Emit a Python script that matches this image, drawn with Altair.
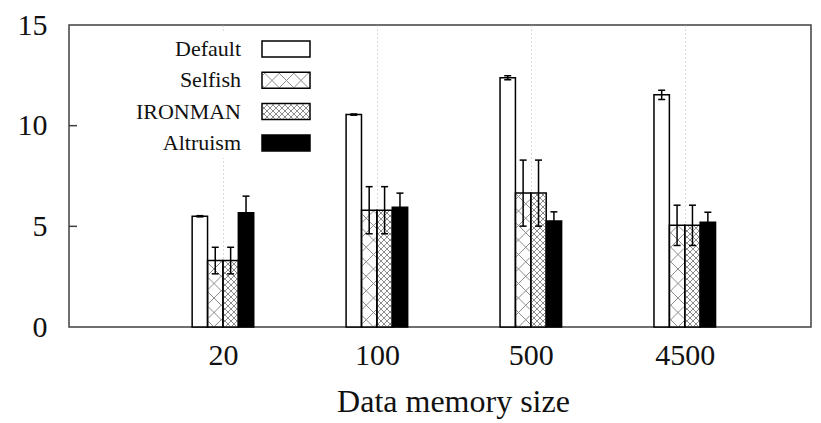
import math
import altair as alt
import pandas as pd

# ---------------- data ----------------
groups = ["20", "100", "500", "4500"]
series = ["Default", "Selfish", "IRONMAN", "Altruism"]
default_mean = [5.50, 10.55, 12.38, 11.53]
default_err = [0.03, 0.03, 0.10, 0.23]
selfish_mean = [3.30, 5.80, 6.65, 5.05]
selfish_err = [0.66, 1.17, 1.64, 1.00]
ironman_mean = [3.30, 5.80, 6.65, 5.05]
ironman_err = [0.66, 1.17, 1.64, 1.00]
altruism_mean = [5.68, 5.95, 5.27, 5.20]
altruism_err = [0.82, 0.70, 0.45, 0.50]
y_ticks = [0, 5, 10, 15]
inner_ticks = [5, 10]

# ---------------- layout / style ----------------
W, H = 742, 302
XMIN, XMAX = -1.0, 3.82
YMIN, YMAX = 0.0, 15.0
SX = W / (XMAX - XMIN)
SY = H / (YMAX - YMIN)
BAR_W = 0.1
CAP_HALF_PX = 3.5
HATCH_PERIOD = {"Selfish": 14.5, "IRONMAN": 6.0}
FONT = "Liberation Serif"
TEXT_COLOR = "#111111"
HATCH_COLOR = "#8c8c8c"
FILLS = {"Default": "white", "Selfish": "white", "IRONMAN": "white", "Altruism": "black"}

# legend layout (pixels inside plot area, from top-left)
LEG_ROW0, LEG_STEP = 24.0, 31.3
LEG_LABEL_RIGHT = 172.0
LEG_SW_X0, LEG_SW_X1 = 193.0, 241.0
LEG_SW_H = 16.0
LEG_BG = (91.0, 8.0, 247.0, 133.0)  # x0, y0, x1, y1


def px_to_x(px):
    return XMIN + px / SX


def py_to_y(py):
    return (H - py) / SY


def hatch(x0, x1, y0, y1, period, inset=0.8):
    X0 = (x0 - XMIN) * SX + inset
    X1 = (x1 - XMIN) * SX - inset
    Y0 = (y0 - YMIN) * SY + inset
    Y1 = (y1 - YMIN) * SY - inset
    segs = []
    if X1 <= X0 or Y1 <= Y0:
        return segs
    for k in range(math.ceil((X0 - Y1) / period), math.floor((X1 - Y0) / period) + 1):
        c = k * period
        a = max(X0, Y0 + c)
        b = min(X1, Y1 + c)
        if b - a > 0.3:
            segs.append((a, a - c, b, b - c))
    for k in range(math.ceil((X0 + Y0) / period), math.floor((X1 + Y1) / period) + 1):
        c = k * period
        a = max(X0, c - Y1)
        b = min(X1, c - Y0)
        if b - a > 0.3:
            segs.append((a, c - a, b, c - b))
    return [
        {"hx": XMIN + a / SX, "hy": YMIN + ay / SY, "hx2": XMIN + b / SX, "hy2": YMIN + by / SY}
        for a, ay, b, by in segs
    ]


means = {"Default": default_mean, "Selfish": selfish_mean, "IRONMAN": ironman_mean, "Altruism": altruism_mean}
errs = {"Default": default_err, "Selfish": selfish_err, "IRONMAN": ironman_err, "Altruism": altruism_err}

bar_rows, hatch_rows, cap_rows = [], [], []
for gi, g in enumerate(groups):
    for si, s in enumerate(series):
        x0 = gi - 2 * BAR_W + si * BAR_W
        x1 = x0 + BAR_W
        xc = (x0 + x1) / 2
        m = means[s][gi]
        e = errs[s][gi]
        bar_rows.append({"group": g, "series": s, "x0": x0, "x1": x1, "xc": xc,
                         "mean": m, "lo": m - e, "hi": m + e})
        for yv in (m - e, m + e):
            cap_rows.append({"cx0": xc - CAP_HALF_PX / SX, "cx1": xc + CAP_HALF_PX / SX, "cy": yv})
        if s in HATCH_PERIOD:
            hatch_rows += hatch(x0, x1, 0.0, m, HATCH_PERIOD[s])

leg_rows = []
for i, s in enumerate(series):
    cy = LEG_ROW0 + i * LEG_STEP
    lx0, lx1 = px_to_x(LEG_SW_X0), px_to_x(LEG_SW_X1)
    ly0, ly1 = py_to_y(cy + LEG_SW_H / 2), py_to_y(cy - LEG_SW_H / 2)
    leg_rows.append({"series": s, "tx": px_to_x(LEG_LABEL_RIGHT), "ty": py_to_y(cy),
                     "x0": lx0, "x1": lx1, "y0": ly0, "y1": ly1})
    if s in HATCH_PERIOD:
        hatch_rows += hatch(lx0, lx1, ly0, ly1, HATCH_PERIOD[s])

bars = pd.DataFrame(bar_rows)
hatches = pd.DataFrame(hatch_rows)
caps = pd.DataFrame(cap_rows)
legend = pd.DataFrame(leg_rows)
bg = pd.DataFrame([{"x0": px_to_x(LEG_BG[0]), "x1": px_to_x(LEG_BG[2]),
                    "y0": py_to_y(LEG_BG[3]), "y1": py_to_y(LEG_BG[1])}])
ticks_df = pd.DataFrame({"t": inner_ticks})

xscale = alt.Scale(domain=[XMIN, XMAX], nice=False, zero=False)
yscale = alt.Scale(domain=[YMIN, YMAX], nice=False, zero=False)
color_scale = alt.Scale(domain=series, range=[FILLS[s] for s in series])

label_expr = "[" + ",".join("'%s'" % g for g in groups) + "][datum.value]"

x_axis = alt.Axis(values=list(range(len(groups))), labelExpr=label_expr, grid=True,
                  gridDash=[1, 3], gridColor="#b5b5b5", gridWidth=1, domain=False, ticks=False,
                  labelFont=FONT, labelFontSize=30, labelColor=TEXT_COLOR, labelPadding=13,
                  labelFlush=False, title="Data memory size", titleFont=FONT, titleFontSize=32,
                  titleFontWeight="normal", titleColor=TEXT_COLOR, titlePadding=16,
                  titleX=384, titleAlign="center")
y_axis = alt.Axis(values=y_ticks, grid=False, domain=False, ticks=False, labelFont=FONT,
                  labelFontSize=30, labelColor=TEXT_COLOR, labelPadding=22, title=None,
                  labelFlush=False)

base_bars = alt.Chart(bars)

bar_fill = base_bars.mark_rect(strokeWidth=0).encode(
    x=alt.X("x0:Q", scale=xscale, axis=x_axis),
    x2="x1:Q",
    y=alt.Y("mean:Q", scale=yscale, axis=y_axis),
    y2=alt.datum(0),
    fill=alt.Fill("series:N", scale=color_scale, legend=None),
)

bg_rect = alt.Chart(bg).mark_rect(fill="white", strokeWidth=0).encode(
    x="x0:Q", x2="x1:Q", y="y0:Q", y2="y1:Q")

hatch_layer = alt.Chart(hatches).mark_rule(stroke=HATCH_COLOR, strokeWidth=1).encode(
    x="hx:Q", x2="hx2:Q", y="hy:Q", y2="hy2:Q")

bar_outline = base_bars.mark_rect(fillOpacity=0, stroke="black", strokeWidth=1.5).encode(
    x="x0:Q", x2="x1:Q", y="mean:Q", y2=alt.datum(0))

err_line = base_bars.mark_rule(stroke="black", strokeWidth=1.5).encode(
    x="xc:Q", y="lo:Q", y2="hi:Q")

err_caps = alt.Chart(caps).mark_rule(stroke="black", strokeWidth=1.5).encode(
    x="cx0:Q", x2="cx1:Q", y="cy:Q")

leg_fill = alt.Chart(legend).mark_rect(strokeWidth=0).encode(
    x="x0:Q", x2="x1:Q", y="y0:Q", y2="y1:Q",
    fill=alt.Fill("series:N", scale=color_scale, legend=None))

leg_text = alt.Chart(legend).mark_text(align="right", baseline="middle", font=FONT,
                                       fontSize=22, color=TEXT_COLOR).encode(
    x="tx:Q", y="ty:Q", text="series:N")

leg_outline = alt.Chart(legend).mark_rect(fillOpacity=0, stroke="black", strokeWidth=1.5).encode(
    x="x0:Q", x2="x1:Q", y="y0:Q", y2="y1:Q")

inner_tick_layer = alt.Chart(ticks_df).mark_rule(stroke="#404040", strokeWidth=1.5).encode(
    x=alt.value(0), x2=alt.value(8), y="t:Q")

chart = alt.layer(
    bar_fill, bg_rect, leg_fill, hatch_layer, bar_outline, err_line, err_caps,
    leg_text, leg_outline, inner_tick_layer,
).properties(
    width=W, height=H,
    autosize=alt.AutoSizeParams(type="none"),
    padding={"left": 69, "top": 25, "right": 821 - 69 - W, "bottom": 423 - 25 - H},
    background="white",
).configure_view(stroke="#404040", strokeWidth=1.5)

chart.save("out.html", embed_options={"renderer": "svg", "actions": False})
